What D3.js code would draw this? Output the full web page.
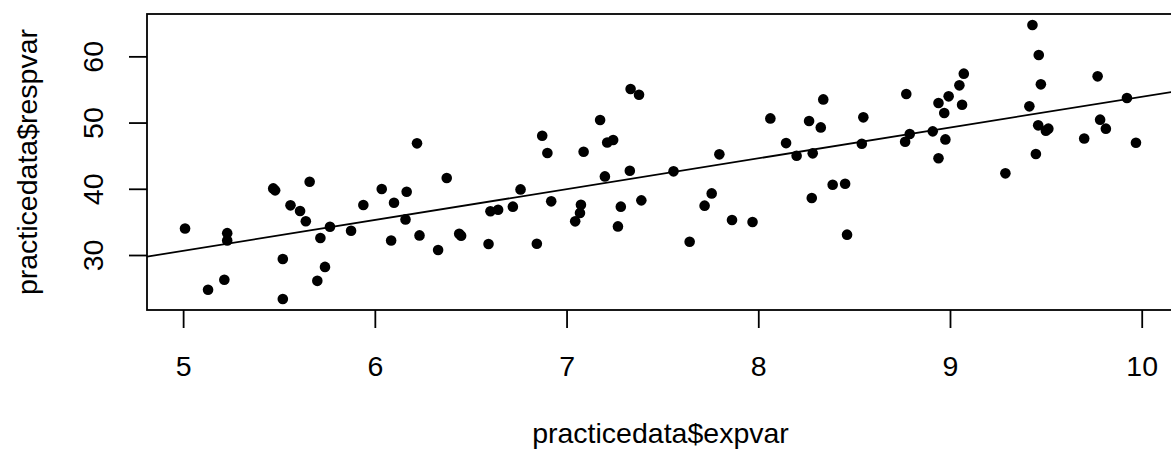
<html>
<head>
<meta charset="utf-8">
<script src="https://cdn.jsdelivr.net/npm/d3@7/dist/d3.min.js"></script>
<style>
body {
	margin: 0;
	background: #fff;
}
text {
	font-family: "Liberation Sans", Arial, sans-serif;
	fill: #000;
}
</style>
</head>
<body>
<svg id="chart" width="1171" height="450"></svg>

<script>
// practicedata$expvar
var expvar = [
    5.01, 5.13, 5.215, 5.23, 5.23, 5.47, 5.48, 5.52, 5.52, 5.56,
    5.61, 5.64, 5.66, 5.70, 5.716, 5.74, 5.766, 5.876, 5.94, 6.036,
    6.085, 6.10, 6.166, 6.16, 6.22, 6.233, 6.33, 6.375, 6.44, 6.45,
    6.593, 6.603, 6.643, 6.72, 6.76, 6.845, 6.873, 6.90, 6.92, 7.045,
    7.07, 7.075, 7.089, 7.175, 7.20, 7.212, 7.243, 7.268, 7.283, 7.33,
    7.334, 7.378, 7.39, 7.558, 7.642, 7.72, 7.757, 7.797, 7.863, 7.97,
    8.063, 8.145, 8.20, 8.265, 8.279, 8.284, 8.326, 8.339, 8.388, 8.453,
    8.463, 8.54, 8.548, 8.766, 8.772, 8.79, 8.91, 8.94, 8.94, 8.97,
    8.976, 8.993, 9.049, 9.063, 9.072, 9.289, 9.414, 9.43, 9.448, 9.46,
    9.463, 9.474, 9.50, 9.513, 9.70, 9.77, 9.783, 9.813, 9.923, 9.97
];
// practicedata$respvar
var respvar = [
    34.0, 24.76, 26.27, 33.3, 32.2, 40.06, 39.76, 29.4, 23.35, 37.5,
    36.65, 35.1, 41.07, 26.1, 32.57, 28.2, 34.27, 33.67, 37.55, 39.97,
    32.2, 37.9, 39.56, 35.38, 46.86, 32.96, 30.75, 41.63, 33.2, 32.9,
    31.66, 36.6, 36.84, 37.3, 39.91, 31.7, 48.0, 45.4, 38.1, 35.08,
    36.34, 37.6, 45.6, 50.39, 41.87, 47.0, 47.37, 34.32, 37.3, 42.73,
    55.08, 54.2, 38.25, 42.63, 32.0, 37.45, 39.3, 45.2, 35.28, 34.98,
    50.63, 46.9, 45.0, 50.24, 38.6, 45.35, 49.27, 53.5, 40.6, 40.77,
    33.07, 46.8, 50.79, 47.1, 54.32, 48.28, 48.67, 52.96, 44.6, 51.45,
    47.46, 53.96, 55.62, 52.7, 57.39, 42.33, 52.45, 64.74, 45.26, 49.58,
    60.2, 55.77, 48.78, 49.08, 47.6, 56.98, 50.44, 49.08, 53.72, 46.96
];
var xTicks = [5, 6, 7, 8, 9, 10];
var yTicks = [30, 40, 50, 60];
var xTitle = "practicedata$expvar";
var yTitle = "practicedata$respvar";

var svg = d3.select("#chart"),
    plot = {left: 147, right: 1174, top: 14, bottom: 310};

// R style range: data extent plus 4% either side
function padExtent(v){
    var e = d3.extent(v);
    var p = (e[1] - e[0]) * 0.04;
    return [e[0] - p, e[1] + p];
}

var x = d3.scaleLinear().domain(padExtent(expvar)).range([plot.left, plot.right]);
var y = d3.scaleLinear().domain(padExtent(respvar)).range([plot.bottom, plot.top]);

var pts = expvar.map(function(d, i){ return {x: d, y: respvar[i]}; });

// least squares fit, like abline(lm(respvar ~ expvar))
var mx = d3.mean(expvar), my = d3.mean(respvar);
var sxy = d3.sum(pts, function(d){ return (d.x - mx) * (d.y - my); });
var sxx = d3.sum(pts, function(d){ return (d.x - mx) * (d.x - mx); });
var slope = sxy / sxx;
var intercept = my - slope * mx;

var clip = svg.append("clipPath").attr("id", "plotclip")
    .append("rect")
    .attr("x", plot.left).attr("y", plot.top)
    .attr("width", plot.right - plot.left).attr("height", plot.bottom - plot.top);

// points
svg.append("g")
    .selectAll("circle")
    .data(pts)
    .enter().append("circle")
    .attr("cx", function(d){ return x(d.x); })
    .attr("cy", function(d){ return y(d.y); })
    .attr("r", 5.3)
    .attr("fill", "#000");

// regression line
var xd = x.domain();
svg.append("line")
    .attr("clip-path", "url(#plotclip)")
    .attr("x1", x(xd[0])).attr("y1", y(intercept + slope * xd[0]))
    .attr("x2", x(xd[1])).attr("y2", y(intercept + slope * xd[1]))
    .attr("stroke", "#000")
    .attr("stroke-width", 1.8);

// box
svg.append("rect")
    .attr("x", plot.left).attr("y", plot.top)
    .attr("width", plot.right - plot.left).attr("height", plot.bottom - plot.top)
    .attr("fill", "none")
    .attr("stroke", "#000")
    .attr("stroke-width", 1.8);

// x axis
var xAxis = svg.append("g")
    .attr("class", "x-axis")
    .attr("transform", `translate(0,${plot.bottom})`)
    .call(d3.axisBottom(x).tickValues(xTicks).tickSize(18).tickPadding(28).tickFormat(d3.format("d")));

// y axis, labels turned like R las=0
var yAxis = svg.append("g")
    .attr("class", "y-axis")
    .attr("transform", `translate(${plot.left},0)`)
    .call(d3.axisLeft(y).tickValues(yTicks).tickSize(18).tickFormat(d3.format("d")));
yAxis.selectAll(".tick text")
    .attr("transform", "rotate(-90)")
    .attr("x", 0)
    .attr("y", -44)
    .attr("dy", 0)
    .attr("text-anchor", "middle");

svg.selectAll(".domain").remove();
svg.selectAll(".tick line").attr("stroke", "#000").attr("stroke-width", 1.8);
svg.selectAll(".tick text")
    .attr("font-family", "'Liberation Sans', Arial, sans-serif")
    .attr("font-size", 28.5)
    .attr("fill", "#000");

// axis titles
svg.append("text")
    .text(xTitle)
    .attr("x", (plot.left + plot.right) / 2)
    .attr("y", 443)
    .attr("text-anchor", "middle")
    .attr("font-size", 28.5);
svg.append("text")
    .text(yTitle)
    .attr("transform", `translate(37,${(plot.top + plot.bottom) / 2}) rotate(-90)`)
    .attr("text-anchor", "middle")
    .attr("font-size", 28.5);
</script>
</body>
</html>
